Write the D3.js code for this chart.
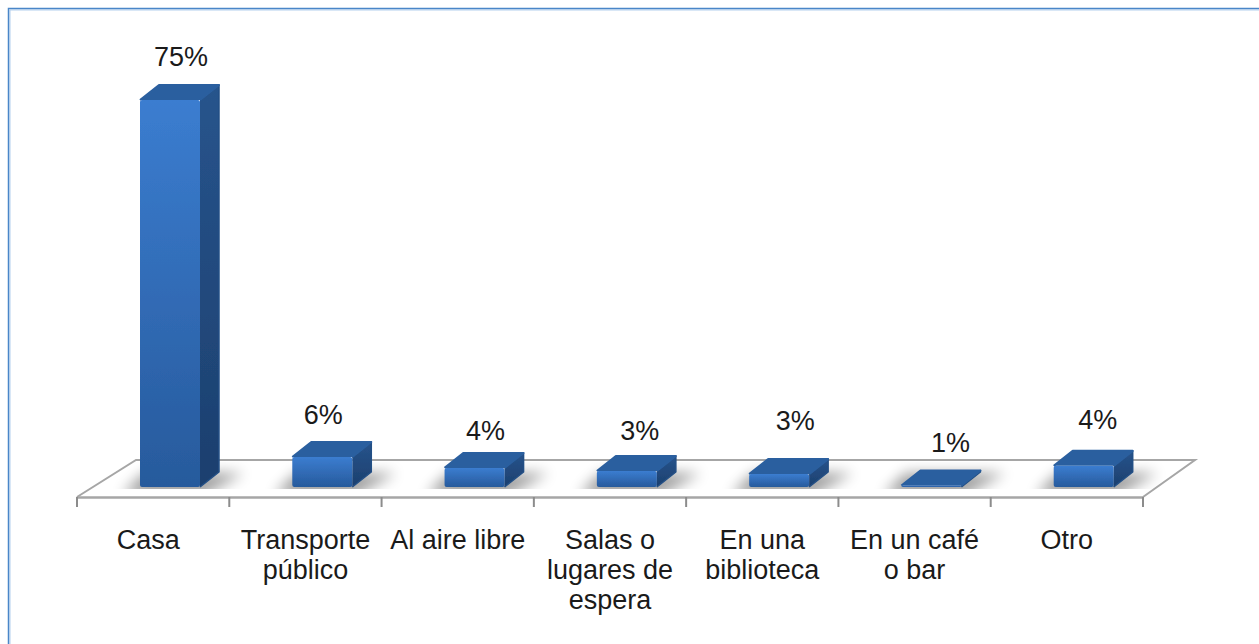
<!DOCTYPE html>
<html>
<head>
<meta charset="utf-8">
<script src="https://cdn.jsdelivr.net/npm/d3@7"></script>
<style>
  html, body { margin: 0; padding: 0; background: #fff; }
  svg { display: block; }
  text { font-family: "Liberation Sans", Arial, sans-serif; fill: #1a1a1a; }
</style>
</head>
<body>
<div id="chart"></div>
<script>
var categories = ["Casa", "Transporte público", "Al aire libre", "Salas o lugares de espera", "En una biblioteca", "En un café o bar", "Otro"];
// wrapped the way the picture wraps them
var categoryLines = [["Casa"], ["Transporte", "público"], ["Al aire libre"], ["Salas o", "lugares de", "espera"], ["En una", "biblioteca"], ["En un café", "o bar"], ["Otro"]];
// bar heights, the labels are rounded
var values = [75, 5.8, 3.7, 3.1, 2.5, 0.3, 4.1];
var valueLabels = ["75%", "6%", "4%", "3%", "3%", "1%", "4%"];
// labels were moved by hand in the original
var labelLift = [34, 33, 28, 31, 44, 33, 37];
var labelShift = [0, -10, 0, 2, 5, 8, 3];

var width = 1259, height = 644;
var floorFront = 497, floorBack = 460, barBase = 487;
var depthX = 19, depthY = 15, barWidth = 60, barOffset = 63;

var svg = d3.select("#chart").append("svg")
  .attr("width", width)
  .attr("height", height);

var defs = svg.append("defs");
defs.append("filter").attr("id", "shadowBlur")
  .attr("x", "-30%").attr("y", "-60%").attr("width", "160%").attr("height", "220%")
  .append("feGaussianBlur").attr("stdDeviation", 7);
defs.append("filter").attr("id", "soft")
  .attr("x", "-10%").attr("y", "-10%").attr("width", "120%").attr("height", "120%")
  .append("feGaussianBlur").attr("stdDeviation", 0.6);
defs.append("clipPath").attr("id", "floorClip")
  .append("rect")
    .attr("x", 0).attr("y", floorBack + 2)
    .attr("width", width).attr("height", barBase + 2 - floorBack - 2);

var frontGrad = defs.append("linearGradient").attr("id", "frontGrad")
  .attr("x1", 0).attr("y1", 0).attr("x2", 0).attr("y2", 1);
frontGrad.append("stop").attr("offset", "0%").attr("stop-color", "#3b7dd0");
frontGrad.append("stop").attr("offset", "100%").attr("stop-color", "#275a9c");

var sideGrad = defs.append("linearGradient").attr("id", "sideGrad")
  .attr("x1", 0).attr("y1", 0).attr("x2", 0).attr("y2", 1);
sideGrad.append("stop").attr("offset", "0%").attr("stop-color", "#27548c");
sideGrad.append("stop").attr("offset", "100%").attr("stop-color", "#1c3f6e");

// frame, dark line with a pale one inside it
svg.append("path")
  .attr("d", "M10," + height + "V10H" + width)
  .attr("fill", "none")
  .attr("stroke", "#b4cfee")
  .attr("stroke-width", 1);
svg.append("path")
  .attr("d", "M8.5," + height + "V8.5H" + width)
  .attr("fill", "none")
  .attr("stroke", "#4a86c8")
  .attr("stroke-width", 1.5);

var xScale = d3.scaleBand().domain(categories).range([77, 1143]);
var yScale = d3.scaleLinear().domain([0, 75]).range([barBase, 100]);

// floor
var backDx = 1195 - 1143;
svg.append("path")
  .attr("d", d3.line()([[77, floorFront], [77 + backDx + 7, floorBack], [1143 + backDx, floorBack], [1143, floorFront]]))
  .attr("fill", "#fff")
  .attr("stroke", "#a6a6a6")
  .attr("stroke-width", 2);

// axis, ticks sit on the band edges so it only gives the labels
var axis = svg.append("g")
  .attr("transform", "translate(0," + floorFront + ")")
  .call(d3.axisBottom(xScale).tickSize(0).tickFormat(""));
axis.select(".domain")
  .attr("stroke", "#a6a6a6")
  .attr("stroke-width", 2.5);

var edges = categories.map(function(d) { return xScale(d); }).concat([xScale.range()[1]]);
axis.selectAll("line.edge").data(edges)
  .enter().append("line")
    .attr("class", "edge")
    .attr("x1", function(d) { return d; })
    .attr("x2", function(d) { return d; })
    .attr("y1", 0)
    .attr("y2", 10)
    .attr("stroke", "#8c8c8c")
    .attr("stroke-width", 2);

axis.selectAll(".tick text").remove();
axis.selectAll(".tick").append("text")
  .attr("text-anchor", "middle")
  .attr("font-size", 27)
  .selectAll("tspan")
  .data(function(d) { return categoryLines[categories.indexOf(d)]; })
  .enter().append("tspan")
    .attr("x", function(d) { return d == "Casa" ? -5 : 0; })
    .attr("y", function(d, i) { return 52 + i * 30; })
    .text(function(d) { return d; });

// bars
var bars = svg.selectAll("g.bar").data(categories)
  .enter().append("g")
    .attr("class", "bar");

function px(d) { return xScale(d) + barOffset; }
function topOf(i) { return yScale(values[i]); }

bars.append("g")
  .attr("clip-path", "url(#floorClip)")
  .append("path")
    .attr("d", function(d) {
      var x = px(d);
      return d3.line()([[x - 18, barBase + 8], [x + barWidth + 4, barBase + 8], [x + barWidth + 44, barBase - 14], [x + 4, barBase - 14]]);
    })
    .attr("fill", "#000")
    .attr("opacity", 0.38)
    .attr("filter", "url(#shadowBlur)");

var solid = bars.append("g").attr("filter", "url(#soft)");

solid.append("path")
  .attr("d", function(d, i) {
    var x = px(d), t = topOf(i);
    return d3.line()([[x + barWidth, t], [x + barWidth + depthX, t - depthY], [x + barWidth + depthX, barBase - depthY], [x + barWidth, barBase]]);
  })
  .attr("fill", "url(#sideGrad)")
  .attr("stroke", "#234f85")
  .attr("stroke-width", 1.5)
  .attr("stroke-linejoin", "round");

solid.append("path")
  .attr("d", function(d, i) {
    var x = px(d), t = topOf(i);
    return d3.line()([[x, t], [x + depthX, t - depthY], [x + barWidth + depthX, t - depthY], [x + barWidth, t]]);
  })
  .attr("fill", "#2b5f9f")
  .attr("stroke", "#2b5f9f")
  .attr("stroke-width", 2)
  .attr("stroke-linejoin", "round");

solid.append("rect")
  .attr("x", px)
  .attr("y", function(d, i) { return topOf(i); })
  .attr("width", barWidth)
  .attr("height", function(d, i) { return barBase - topOf(i); })
  .attr("rx", 2)
  .attr("fill", "url(#frontGrad)");

// value labels
svg.selectAll("text.value").data(categories)
  .enter().append("text")
    .attr("class", "value")
    .attr("x", function(d, i) { return px(d) + 41 + labelShift[i]; })
    .attr("y", function(d, i) { return topOf(i) - labelLift[i]; })
    .attr("text-anchor", "middle")
    .attr("font-size", 27)
    .text(function(d, i) { return valueLabels[i]; });
</script>
</body>
</html>
